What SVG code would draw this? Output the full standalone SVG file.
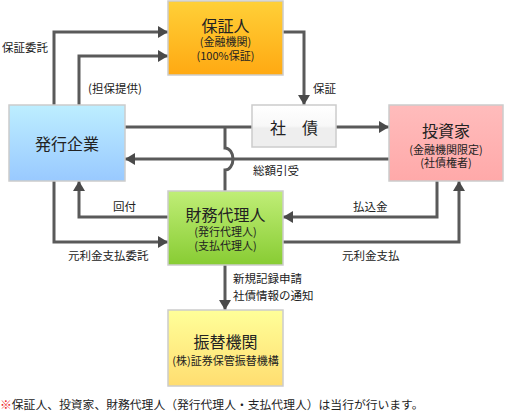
<svg xmlns="http://www.w3.org/2000/svg" width="505" height="412" viewBox="0 0 505 412">
<defs>
<linearGradient id="gOrange" x1="0" y1="0" x2="0" y2="1"><stop offset="0" stop-color="#ffd038"/><stop offset="1" stop-color="#ffa912"/></linearGradient>
<linearGradient id="gBlue" x1="0" y1="0" x2="0" y2="1"><stop offset="0" stop-color="#bdeeff"/><stop offset="1" stop-color="#99c9ff"/></linearGradient>
<linearGradient id="gWhite" x1="0" y1="0" x2="0" y2="1"><stop offset="0" stop-color="#ffffff"/><stop offset="0.5" stop-color="#f8f8f8"/><stop offset="0.55" stop-color="#eeeeee"/><stop offset="1" stop-color="#eeeeee"/></linearGradient>
<linearGradient id="gPink" x1="0" y1="0" x2="0" y2="1"><stop offset="0" stop-color="#ffbcbc"/><stop offset="1" stop-color="#ffa9a9"/></linearGradient>
<linearGradient id="gGreen" x1="0" y1="0" x2="0" y2="1"><stop offset="0" stop-color="#c0ee77"/><stop offset="1" stop-color="#88cc33"/></linearGradient>
<linearGradient id="gYellow" x1="0" y1="0" x2="0" y2="1"><stop offset="0" stop-color="#ffff99"/><stop offset="1" stop-color="#ffdd70"/></linearGradient>
<marker id="arr" markerUnits="userSpaceOnUse" markerWidth="10" markerHeight="12" refX="10" refY="6" orient="auto" viewBox="0 0 10 12"><path d="M0,0 L10,6 L0,12 z" fill="#4a4a4a"/></marker>
<style>
.box{stroke:#cccccc;stroke-width:1.5}
.ln{fill:none;stroke:#5a5a5a;stroke-width:3}
.ar{marker-end:url(#arr)}
text{font-family:"Noto Sans CJK JP","Noto Sans",sans-serif;fill:#222}
.t{font-size:16px;text-anchor:middle}
.s{font-size:11px;text-anchor:middle}
.l{font-size:11.5px}
</style>
</defs>
<rect width="505" height="412" fill="#ffffff"/>

<g id="connectors">
<path class="ln ar" d="M54,105 V32 H168"/>
<path class="ln ar" d="M79,105 V56 H168"/>
<path class="ln ar" d="M283,32 H304 V105"/>
<path class="ln" d="M125,127 H252"/>
<path class="ln ar" d="M336,127 H389"/>
<path class="ln ar" d="M389,159 H125"/>
<path class="ln" d="M225,127 V148 A8 11 0 0 1 225,170 V191"/>
<path class="ln ar" d="M54,181 V242 H168"/>
<path class="ln ar" d="M168,217 H79 V181"/>
<path class="ln ar" d="M437,181 V217 H283"/>
<path class="ln ar" d="M283,242 H459 V181"/>
<path class="ln ar" d="M225,265 V310"/>
</g>

<g id="labels">
<text class="l" x="2" y="52">保証委託</text>
<text class="l" x="88" y="93">(担保提供)</text>
<text class="l" x="313" y="93">保証</text>
<text class="l" x="253" y="175">総額引受</text>
<text class="l" x="113" y="211">回付</text>
<text class="l" x="68" y="260">元利金支払委託</text>
<text class="l" x="353" y="211">払込金</text>
<text class="l" x="342" y="260">元利金支払</text>
<text class="l" x="233" y="283">新規記録申請</text>
<text class="l" x="233" y="300">社債情報の通知</text>
</g>

<g id="guarantor">
<rect class="box" x="168" y="1" width="115" height="74" fill="url(#gOrange)"/>
<text class="t" x="225.5" y="32">保証人</text>
<text class="s" x="225.5" y="46">(金融機関)</text>
<text class="s" x="225.5" y="59.5">(100%保証)</text>
</g>

<g id="issuer">
<rect class="box" x="9" y="105" width="116" height="76" fill="url(#gBlue)"/>
<text class="t" x="67" y="150">発行企業</text>
</g>

<g id="bond">
<rect class="box" x="252" y="105" width="84" height="42" fill="url(#gWhite)"/>
<text class="t" x="294" y="134">社　債</text>
</g>

<g id="investor">
<rect class="box" x="389" y="105" width="114" height="76" fill="url(#gPink)"/>
<text class="t" x="446" y="137">投資家</text>
<text class="s" x="446" y="154" font-size="10.8">(金融機関限定)</text>
<text class="s" x="446" y="166.5">(社債権者)</text>
</g>

<g id="agent">
<rect class="box" x="168" y="191" width="115" height="74" fill="url(#gGreen)"/>
<text class="t" x="225.5" y="221">財務代理人</text>
<text class="s" x="225.5" y="236">(発行代理人)</text>
<text class="s" x="225.5" y="249.5">(支払代理人)</text>
</g>

<g id="transfer">
<rect class="box" x="168" y="310" width="115" height="76" fill="url(#gYellow)"/>
<text class="t" x="225.5" y="348">振替機関</text>
<text class="s" x="225.5" y="365" font-size="10.3">(株)証券保管振替機構</text>
</g>

<g id="footnote">
<text x="0" y="409" font-size="11.8"><tspan fill="#ee2222">※</tspan>保証人、投資家、財務代理人（発行代理人・支払代理人）は当行が行います。</text>
</g>
</svg>
